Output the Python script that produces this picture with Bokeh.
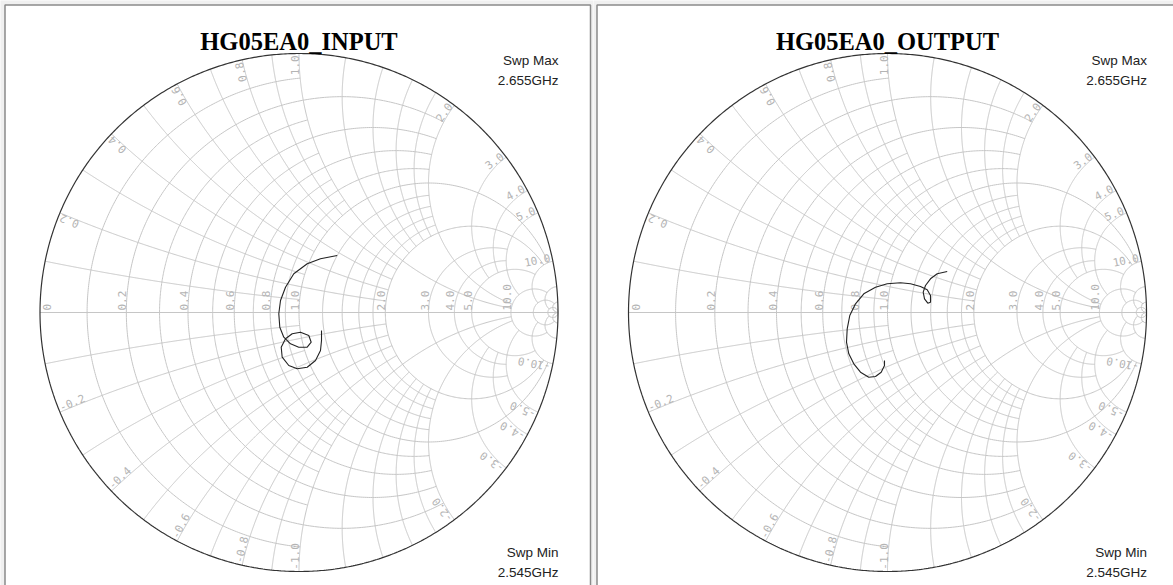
import numpy as np
from bokeh.plotting import figure
from bokeh.layouts import row
from bokeh.models import Range1d, Label
from bokeh.embed import file_html
from bokeh.resources import INLINE
from bokeh.core.properties import value

# ---------------- data ----------------
titles = ["HG05EA0_INPUT", "HG05EA0_OUTPUT"]
swp_max_text = ["Swp Max", "2.655GHz"]
swp_min_text = ["Swp Min", "2.545GHz"]

in_re = [0.1475, 0.0830, 0.0317, -0.0201, -0.0521, -0.0714, -0.0780, -0.0741, -0.0587,
         -0.0328, -0.0008, 0.0317, 0.0471, 0.0378, 0.0058, -0.0263, -0.0521, -0.0687,
         -0.0649, -0.0394, -0.0069, 0.0317, 0.0637, 0.0830, 0.0869, 0.0869]
in_im = [0.2201, 0.2073, 0.1880, 0.1494, 0.0977, 0.0463, -0.0050, -0.0568, -0.0954,
         -0.1208, -0.1340, -0.1340, -0.1147, -0.0888, -0.0761, -0.0822, -0.1015, -0.1340,
         -0.1726, -0.2046, -0.2174, -0.2112, -0.1853, -0.1467, -0.1081, -0.0695]

# OUTPUT reflection coefficient (real, imag)
out_re = [0.2305, 0.1919, 0.1660, 0.1467, 0.1378, 0.1429, 0.1556, 0.1660, 0.1660, 0.1533,
          0.1274, 0.0888, 0.0502, -0.0012, -0.0463, -0.0915, -0.1236, -0.1456, -0.1556,
          -0.1583, -0.1494, -0.1301, -0.1042, -0.0722, -0.0463, -0.0243, -0.0116, -0.0116]
out_im = [0.1583, 0.1494, 0.1301, 0.1042, 0.0784, 0.0529, 0.0359, 0.0398, 0.0656, 0.0876,
          0.1004, 0.1108, 0.1147, 0.1108, 0.0977, 0.0722, 0.0336, -0.0116, -0.0629,
          -0.1147, -0.1595, -0.1981, -0.2305, -0.2498, -0.2471, -0.2305, -0.2046, -0.1853]

# Smith grid values and how far each line extends (None = to the edge)
r_vals = [0.1, 0.2, 0.3, 0.4, 0.5, 0.6, 0.7, 0.8, 0.9, 1.0, 1.2, 1.4, 1.6, 1.8, 2.0,
          3.0, 4.0, 5.0, 10.0, 20.0, 50.0]
r_lims = [1, 2, 1, 2, 1, 2, 1, 2, 1, 10, 2, 2, 2, 2, 10, 5, 5, 10, 20, 50, None]
x_vals = r_vals
x_lims = r_lims
axis_labels = [0.0, 0.2, 0.4, 0.6, 0.8, 1.0, 2.0, 3.0, 4.0, 5.0, 10.0]
rim_labels = [0.2, 0.4, 0.6, 0.8, 1.0, 2.0, 3.0, 4.0, 5.0, 10.0]

GRID = "#c6c6c6"
LABEL = "#b4b4b4"
SCALE = 259.0  # pixels per unit reflection
H = 585


def gamma(z):
    return (z - 1) / (z + 1)


def r_arc(r, X, n=361):
    c = r / (1 + r)
    rho = 1 / (1 + r)
    if X is None:
        ph = np.linspace(0, 2 * np.pi, n)
    else:
        g = gamma(r + 1j * X)
        phx = np.angle(g - c)
        ph = np.linspace(phx, 2 * np.pi - phx, n)
    return list(c + rho * np.cos(ph)), list(rho * np.sin(ph))


def x_arc(x, R, n=361):
    ax = abs(x)
    cy = 1 / ax
    rho = 1 / ax
    cen = 1 + 1j * cy
    a0 = np.angle(gamma(1j * ax) - cen)
    if R is None:
        a1 = -np.pi / 2
    else:
        a1 = np.angle(gamma(R + 1j * ax) - cen)
    while a1 < a0:
        a1 += 2 * np.pi
    a = np.linspace(a0, a1, n)
    xs = 1 + rho * np.cos(a)
    ys = cy + rho * np.sin(a)
    if x < 0:
        ys = -ys
    return list(xs), list(ys)


def make_chart(title, re, im, width, cx_px, panel_l, panel_r, cy_px=312.0, height=H):
    x0 = -cx_px / SCALE
    x1 = (width - cx_px) / SCALE
    y1 = cy_px / SCALE
    y0 = -(height - cy_px) / SCALE
    p = figure(width=width, height=height, x_range=Range1d(x0, x1), y_range=Range1d(y0, y1),
               output_backend="svg", toolbar_location=None, min_border=0,
               x_axis_location=None, y_axis_location=None)
    p.xgrid.visible = False
    p.ygrid.visible = False
    p.background_fill_color = "#f0f0f0"
    p.border_fill_color = "#f0f0f0"
    p.outline_line_color = None

    # panel frame
    def px(v):
        return (v - cx_px) / SCALE

    def py(v):
        return (cy_px - v) / SCALE
    p.quad(left=[px(panel_l)], right=[px(panel_r)], top=[py(4.5)], bottom=[py(height + 10)],
           fill_color="white", line_color="#8a8a8a", line_width=1.5)

    xs, ys = [], []
    for r, lim in zip(r_vals, r_lims):
        a, b = r_arc(r, lim)
        xs.append(a)
        ys.append(b)
    for x, lim in zip(x_vals, x_lims):
        for sgn in (1, -1):
            a, b = x_arc(sgn * x, lim)
            xs.append(a)
            ys.append(b)
    xs.append([-1.0, 1.0])
    ys.append([0.0, 0.0])
    p.multi_line(xs, ys, line_color=GRID, line_width=1)

    # outer circle
    a, b = r_arc(0.0, None, 721)
    p.line(a, b, line_color="#333333", line_width=1.2)

    # axis labels
    for r in axis_labels:
        g = gamma(r + 0j).real
        txt = "0" if r == 0 else "%.1f" % r
        if r == 0:
            p.text([g], [0.0], text=[txt], angle=np.pi / 2, x_offset=3, y_offset=-2,
                   text_align="left", text_baseline="top", text_color=LABEL,
                   text_font=value("DejaVu Sans Mono"), text_font_size="11px")
        else:
            p.text([g], [0.0], text=[txt], angle=np.pi / 2, y_offset=-2,
                   text_align="left", text_baseline="bottom", text_color=LABEL,
                   text_font=value("DejaVu Sans Mono"), text_font_size="11px")

    # rim labels
    for x in rim_labels:
        for sgn in (1, -1):
            g = gamma(1j * sgn * x) * 0.993
            th = np.angle(g)
            if sgn > 0:
                p.text([g.real], [g.imag], text=["%.1f" % x], angle=th,
                       text_align="right", text_baseline="bottom", text_color=LABEL,
                       text_font=value("DejaVu Sans Mono"), text_font_size="11px")
            else:
                p.text([g.real], [g.imag], text=["-%.1f" % x], angle=th + np.pi,
                       text_align="left", text_baseline="bottom", text_color=LABEL,
                       text_font=value("DejaVu Sans Mono"), text_font_size="11px")

    # trace
    p.line(re, im, line_color="#222222", line_width=1.1)

    # title
    p.add_layout(Label(x=0, y=(cy_px - 41) / SCALE, text=title, text_align="center",
                       text_baseline="alphabetic", text_font="Liberation Serif",
                       text_font_style="bold", text_font_size="24.5px", text_color="black"))
    # sweep labels
    xr = 259.5 / SCALE
    for t, yy in zip(swp_max_text, [(cy_px - 60) / SCALE, (cy_px - 80) / SCALE]):
        p.add_layout(Label(x=xr, y=yy, text=t, text_align="right", text_baseline="alphabetic",
                           text_font="Liberation Sans", text_font_size="13.5px", text_color="#222222"))
    for t, yy in zip(swp_min_text, [(cy_px - 551.5) / SCALE, (cy_px - 571.5) / SCALE]):
        p.add_layout(Label(x=xr, y=yy, text=t, text_align="right", text_baseline="alphabetic",
                           text_font="Liberation Sans", text_font_size="13.5px", text_color="#222222"))
    return p


p1 = make_chart(titles[0], in_re, in_im, 593, 298.5, 4.5, 590)
p2 = make_chart(titles[1], out_re, out_im, 580, 294.0, 3.5, 600)
layout = row(p1, p2)

open("out.html", "w").write(file_html(layout, INLINE))
